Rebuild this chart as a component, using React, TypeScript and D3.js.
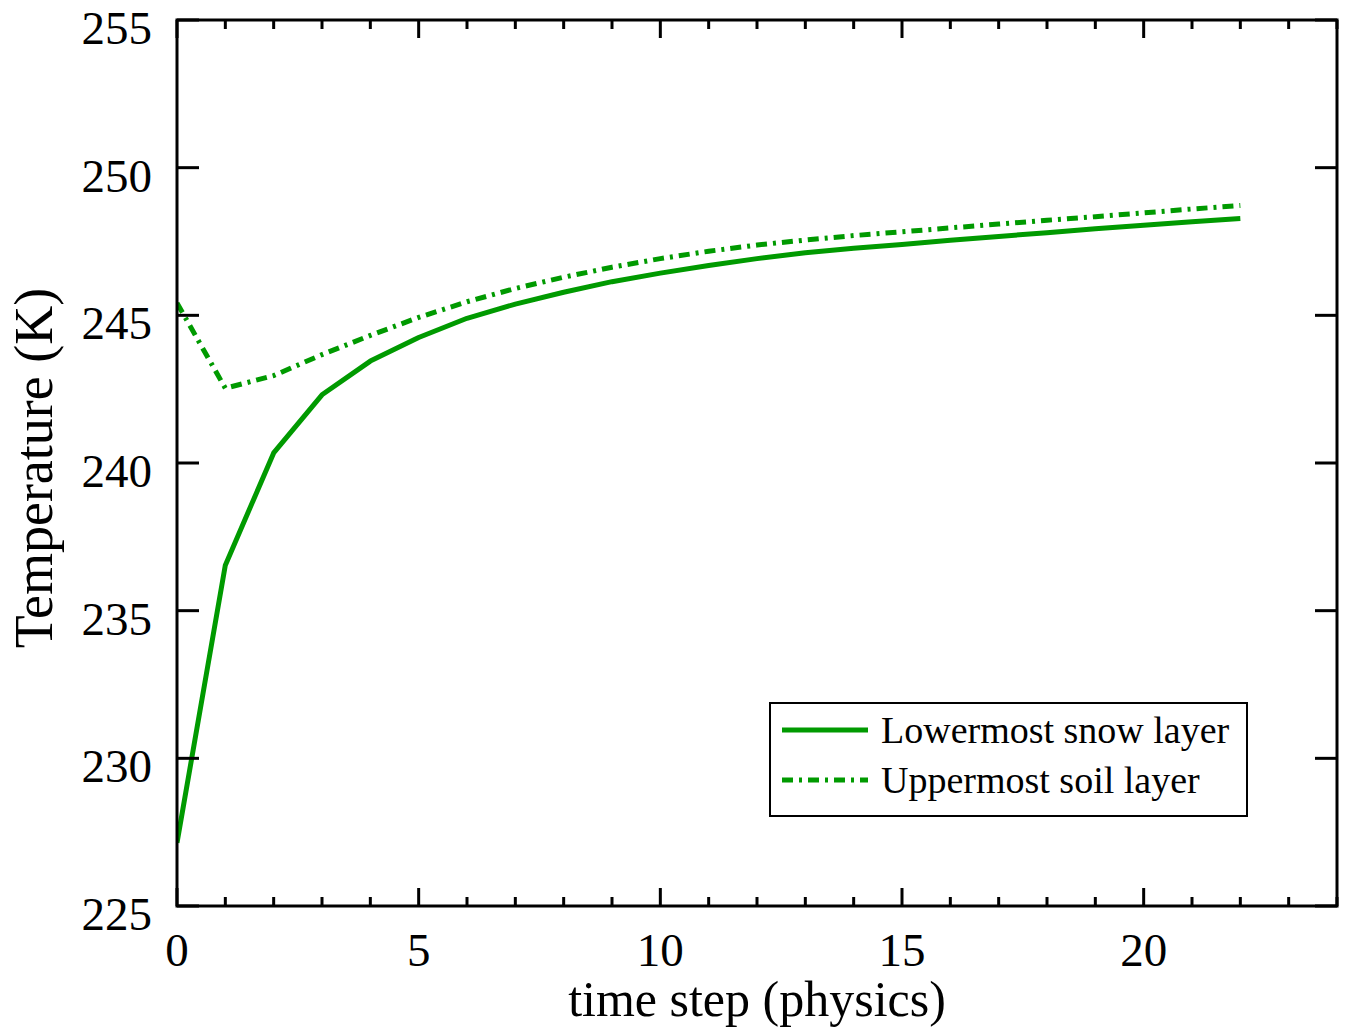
import React from "react";
import * as d3 from "d3";

const steps = [0, 1, 2, 3, 4, 5, 6, 7, 8, 9, 10, 11, 12, 13, 14, 15, 16, 17, 18, 19, 20, 21, 22];
const snowTemp = [227.14, 236.54, 240.34, 242.31, 243.45, 244.25, 244.9, 245.38, 245.78, 246.14, 246.43, 246.69, 246.92, 247.12, 247.27, 247.4, 247.54, 247.67, 247.8, 247.93, 248.05, 248.17, 248.28];
const soilTemp = [245.42, 242.53, 242.96, 243.67, 244.32, 244.93, 245.46, 245.91, 246.29, 246.63, 246.92, 247.17, 247.38, 247.55, 247.7, 247.83, 247.96, 248.09, 248.22, 248.34, 248.47, 248.6, 248.72];
const xTicks = [0, 5, 10, 15, 20];
const xMinorTicks = d3.range(0, 25, 1);
const yTicks = [225, 230, 235, 240, 245, 250, 255];
const seriesNames = ["Lowermost snow layer", "Uppermost soil layer"];

const W = 1345, H = 1031;
const L = 177, R = 1337, T = 20, B = 906;
const GREEN = "#009a00";
const FONT = "'Liberation Serif', 'Times New Roman', serif";

export default function App() {
  const x = d3.scaleLinear().domain([0, 24]).range([L, R]);
  const y = d3.scaleLinear().domain([225, 255]).range([B, T]);
  const line = d3.line<number>().x((_, i) => x(steps[i])).y((d) => y(d));
  const snowPath = line(snowTemp) || "";
  const soilPath = line(soilTemp) || "";
  const dash = "11,6,3,6";

  return (
    <svg width={W} height={H} style={{ position: "absolute", left: 0, top: 0, background: "#fff" }} fontFamily={FONT}>
      <rect x={0} y={0} width={W} height={H} fill="#fff" />
      <defs>
        <clipPath id="plotclip">
          <rect x={L} y={T} width={R - L} height={B - T} />
        </clipPath>
      </defs>
      <g clipPath="url(#plotclip)">
        <path d={snowPath} fill="none" stroke={GREEN} strokeWidth={5} strokeLinejoin="round" />
        <path d={soilPath} fill="none" stroke={GREEN} strokeWidth={5} strokeDasharray={dash} />
      </g>
      {xMinorTicks.filter((t) => t % 5 !== 0).map((t) => (
        <g key={"mx" + t}>
          <line x1={x(t)} x2={x(t)} y1={B} y2={B - 9} stroke="#000" strokeWidth={3} />
          <line x1={x(t)} x2={x(t)} y1={T} y2={T + 9} stroke="#000" strokeWidth={3} />
        </g>
      ))}
      {xTicks.map((t) => (
        <g key={"x" + t}>
          <line x1={x(t)} x2={x(t)} y1={B} y2={B - 18} stroke="#000" strokeWidth={3} />
          <line x1={x(t)} x2={x(t)} y1={T} y2={T + 18} stroke="#000" strokeWidth={3} />
          <text x={x(t)} y={966} textAnchor="middle" fontSize={47}>{t}</text>
        </g>
      ))}
      {yTicks.map((t) => (
        <g key={"y" + t}>
          <line x1={L} x2={L + 22} y1={y(t)} y2={y(t)} stroke="#000" strokeWidth={3} />
          <line x1={R} x2={R - 22} y1={y(t)} y2={y(t)} stroke="#000" strokeWidth={3} />
          <text x={152} y={y(t) + 24} textAnchor="end" fontSize={47}>{t}</text>
        </g>
      ))}
      <rect x={L} y={T} width={R - L} height={B - T} fill="none" stroke="#000" strokeWidth={3} />
      <text x={757} y={1016} textAnchor="middle" fontSize={50}>time step (physics)</text>
      <text transform="translate(52,468) rotate(-90)" textAnchor="middle" fontSize={54}>Temperature (K)</text>
      <rect x={770} y={703} width={477} height={113} fill="#fff" stroke="#000" strokeWidth={2} />
      <line x1={782} x2={868} y1={730} y2={730} stroke={GREEN} strokeWidth={5} />
      <line x1={782} x2={868} y1={780} y2={780} stroke={GREEN} strokeWidth={5} strokeDasharray={dash} />
      <text x={881} y={743} fontSize={38}>{seriesNames[0]}</text>
      <text x={881} y={793} fontSize={38}>{seriesNames[1]}</text>
    </svg>
  );
}
